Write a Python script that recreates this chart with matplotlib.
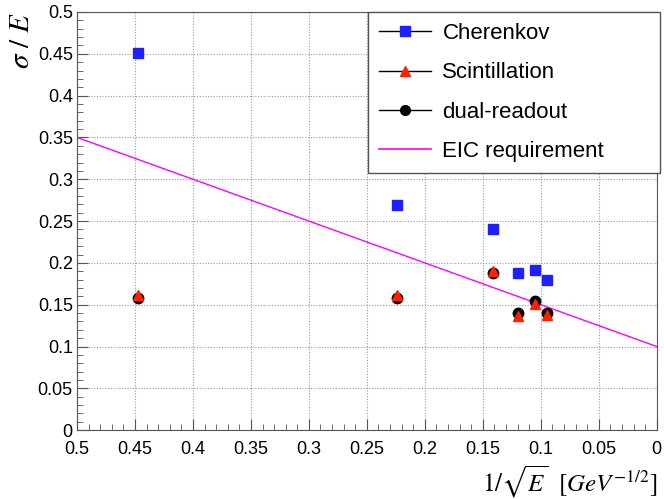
import matplotlib
matplotlib.use("Agg")
import matplotlib.pyplot as plt
from matplotlib.ticker import MultipleLocator
from matplotlib.lines import Line2D

# 1/sqrt(E) values of the beam points
inv_sqrt_e = [0.447, 0.224, 0.141, 0.120, 0.105, 0.095]
cherenkov = [0.451, 0.269, 0.241, 0.188, 0.191, 0.179]
scint = [0.161, 0.162, 0.190, 0.137, 0.151, 0.138]
dual = [0.158, 0.158, 0.188, 0.140, 0.154, 0.140]

# EIC requirement line end points
eic_x = [0.5, 0.0]
eic_y = [0.35, 0.10]

plt.rcParams['font.family'] = ['Liberation Sans', 'DejaVu Sans']
plt.rcParams['mathtext.fontset'] = 'stix'

fig = plt.figure(figsize=(6.64, 4.99), dpi=100)
ax = fig.add_axes([0.116, 0.138, 0.873, 0.838])

ax.plot(eic_x, eic_y, color='#ff00ff', lw=1.0, zorder=2)
ax.plot(inv_sqrt_e, cherenkov, 's', color='#2020ff', ms=7, mec='#2020ff', zorder=3)
ax.plot(inv_sqrt_e, dual, 'o', color='black', ms=7.5, zorder=3)
ax.plot(inv_sqrt_e, scint, '^', color='#ff2000', ms=7, mec='#ff2000', zorder=4)

ax.set_xlim(0.5, 0.0)
ax.set_ylim(0, 0.5)
ax.xaxis.set_major_locator(MultipleLocator(0.05))
ax.xaxis.set_minor_locator(MultipleLocator(0.01))
ax.yaxis.set_major_locator(MultipleLocator(0.05))
ax.yaxis.set_minor_locator(MultipleLocator(0.01))
ax.xaxis.set_major_formatter(plt.FuncFormatter(lambda v, p: ('%g' % round(v, 3))))
ax.yaxis.set_major_formatter(plt.FuncFormatter(lambda v, p: ('%g' % round(v, 3))))
ax.tick_params(which='both', direction='in', top=False, right=False, labelsize=13, color='#555555')
ax.tick_params(which='major', length=8)
ax.tick_params(which='minor', length=4)
ax.tick_params(axis='y', pad=3)
ax.tick_params(axis='x', pad=8)
ax.grid(True, which='major', linestyle=(0, (1, 1.5)), color='#999999', lw=0.8)
for s in ax.spines.values():
    s.set_color('#555555')

ax.set_ylabel(r'$\sigma\ /\ E$', fontsize=21, loc='top', labelpad=2)
ax.set_xlabel(r'$1/\sqrt{E}\ \ [GeV^{-1/2}]$', fontsize=18, loc='right', labelpad=4)

handles = [
    Line2D([], [], color='black', lw=1, marker='s', mfc='#2020ff', mec='#2020ff', ms=7),
    Line2D([], [], color='black', lw=1, marker='^', mfc='#ff2000', mec='#ff2000', ms=7),
    Line2D([], [], color='black', lw=1, marker='o', mfc='black', ms=7),
    Line2D([], [], color='#ff00ff', lw=1.2),
]
leg = ax.legend(handles, ['Cherenkov', 'Scintillation', 'dual-readout', 'EIC requirement'],
                loc='upper left', bbox_to_anchor=(0.502, 0.0, 0.503, 1.0), mode='expand',
                fontsize=16, fancybox=False,
                framealpha=1, edgecolor='#555555', borderpad=0.5, labelspacing=0.82,
                handlelength=2.35, handletextpad=0.5, borderaxespad=0)
leg.get_frame().set_linewidth(1.0)

fig.savefig('out.png', dpi=100)
